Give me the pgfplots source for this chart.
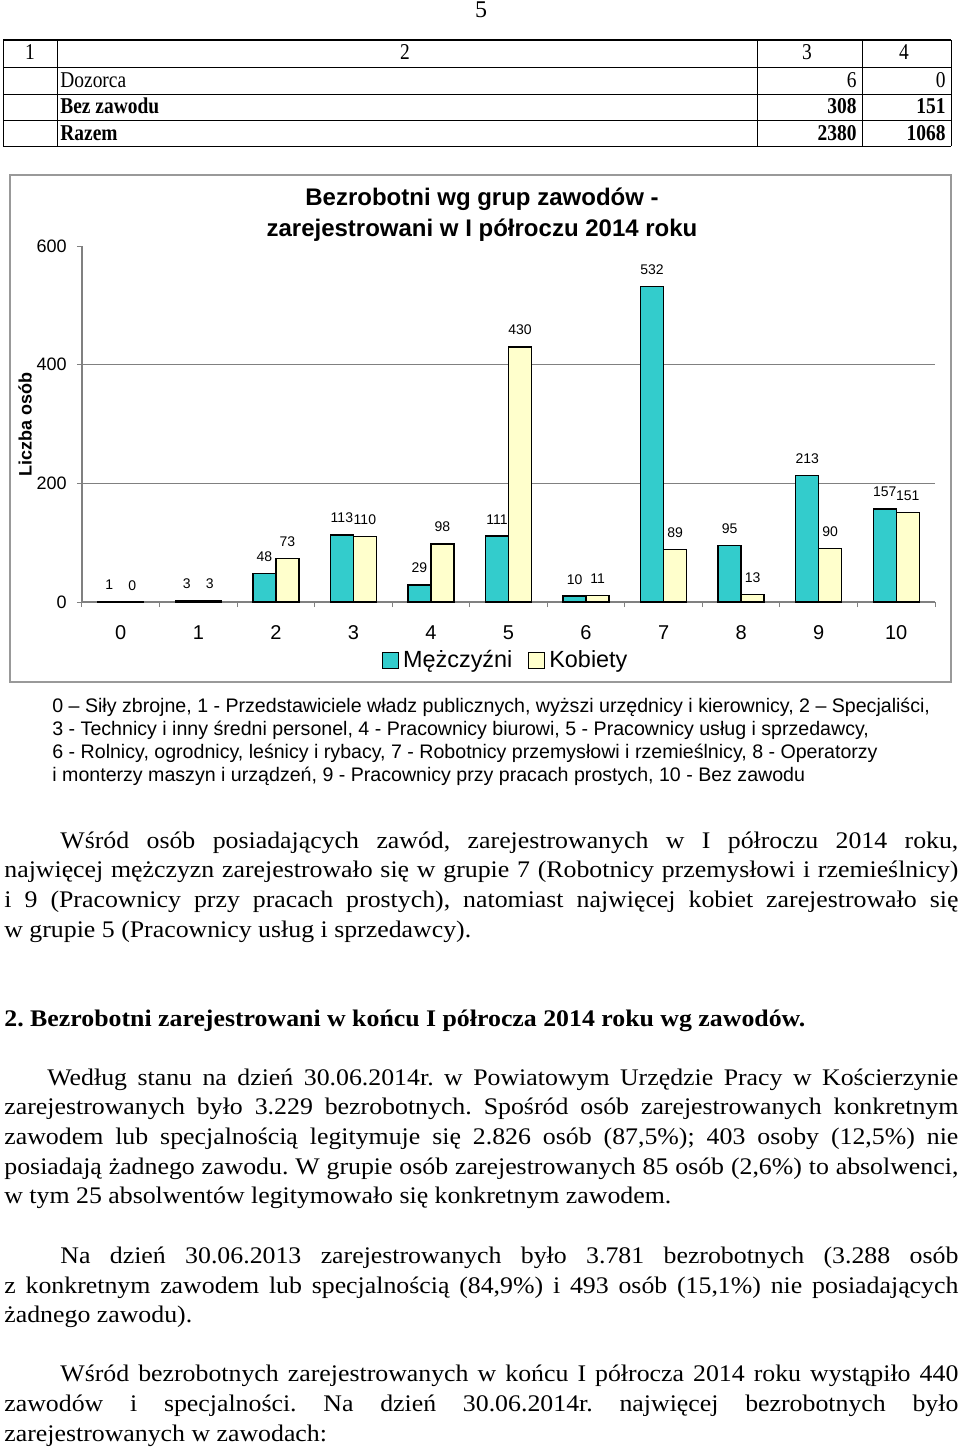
\documentclass[border=0pt]{standalone}
\usepackage{fontspec}
\setmainfont{Liberation Serif}
\newfontfamily\arial{Liberation Sans}
\newfontfamily\timeswide[FakeStretch=1.085]{Liberation Serif}
\newfontfamily\timesnarrow[FakeStretch=0.86]{Liberation Serif}
\usepackage{pgfplots}
\pgfplotsset{compat=1.18}
\definecolor{men}{RGB}{51,204,204}
\definecolor{women}{RGB}{255,255,204}
\definecolor{axgray}{RGB}{128,128,128}
\newcommand{\jl}[4]{\node[anchor=base west,inner sep=0pt] at (#1,#2) {\makebox[#3pt][s]{#4}};}
\newcommand{\nl}[3]{\node[anchor=base west,inner sep=0pt] at (#1,#2) {#3};}
\frenchspacing
\begin{document}
\frenchspacing
\begin{tikzpicture}
\begin{scope}[x=0.5pt,y=-0.5pt]
\path[use as bounding box] (0,0) rectangle (960,1448);
% page number
\node[anchor=base,inner sep=0pt,font=\fontsize{12}{14}\selectfont] at (481,17) {5};
% table
\draw[line width=0.6pt] (3,40) -- (951,40);
\draw[line width=0.5pt] (3,67) -- (951,67) (3,94) -- (951,94) (3,120) -- (951,120) (3,146) -- (951,146);
\draw[line width=0.5pt] (3,40) -- (3,146) (57,40) -- (57,146) (757,40) -- (757,146) (862,40) -- (862,146) (951,40) -- (951,146);
\begin{scope}[every node/.style={inner sep=0pt,font=\timesnarrow\fontsize{11.3}{13}\selectfont}]
\node[anchor=base] at (30,59) {1};
\node[anchor=base] at (405,59) {2};
\node[anchor=base] at (807,59) {3};
\node[anchor=base] at (904,59) {4};
\node[anchor=base west] at (60,87) {Dozorca};
\node[anchor=base east] at (857,87) {6};
\node[anchor=base east] at (946,87) {0};
\node[anchor=base west] at (60,113) {\bfseries Bez zawodu};
\node[anchor=base east] at (857,113) {\bfseries 308};
\node[anchor=base east] at (946,113) {\bfseries 151};
\node[anchor=base west] at (60,140) {\bfseries Razem};
\node[anchor=base east] at (857,140) {\bfseries 2380};
\node[anchor=base east] at (946,140) {\bfseries 1068};
\end{scope}
% chart frame
\draw[color=axgray!80,line width=0.6pt] (10,175) rectangle (951,682);
\node[anchor=base,inner sep=0pt,font=\arial\bfseries\fontsize{12}{14}\selectfont] at (482,205) {Bezrobotni wg grup zawodów -};
\node[anchor=base,inner sep=0pt,font=\arial\bfseries\fontsize{12}{14}\selectfont] at (482,236) {zarejestrowani w I półroczu 2014 roku};
\node[rotate=90,inner sep=0pt,font=\arial\bfseries\fontsize{9}{11}\selectfont] at (25,424) {Liczba osób};
% caption
\begin{scope}[every node/.style={font=\arial\fontsize{9.8}{12}\selectfont}]
\nl{52}{712}{0 – Siły zbrojne, 1 - Przedstawiciele władz publicznych, wyższi urzędnicy i kierownicy, 2 – Specjaliści,}
\nl{52}{735}{3 - Technicy i inny średni personel, 4 - Pracownicy biurowi, 5 - Pracownicy usług i sprzedawcy,}
\nl{52}{758}{6 - Rolnicy, ogrodnicy, leśnicy i rybacy, 7 - Robotnicy przemysłowi i rzemieślnicy, 8 - Operatorzy}
\nl{52}{781}{i monterzy maszyn i urządzeń, 9 - Pracownicy przy pracach prostych, 10 - Bez zawodu}
\end{scope}
% body text
\begin{scope}[every node/.style={font=\timeswide\fontsize{11.9}{14}\selectfont}]
\jl{60}{848}{449}{Wśród osób posiadających zawód, zarejestrowanych w I półroczu 2014 roku,}
\jl{4}{877}{477}{najwięcej mężczyzn zarejestrowało się w grupie 7 (Robotnicy przemysłowi i rzemieślnicy)}
\jl{4}{907}{477}{i 9 (Pracownicy przy pracach prostych), natomiast najwięcej kobiet zarejestrowało się}
\nl{4}{937}{w grupie 5 (Pracownicy usług i sprzedawcy).}
\nl{4}{1026}{\bfseries 2. Bezrobotni zarejestrowani w końcu I półrocza 2014 roku wg zawodów.}
\jl{47}{1085}{455.5}{Według stanu na dzień 30.06.2014r. w Powiatowym Urzędzie Pracy w Kościerzynie}
\jl{4}{1114}{477}{zarejestrowanych było 3.229 bezrobotnych. Spośród osób zarejestrowanych konkretnym}
\jl{4}{1144}{477}{zawodem lub specjalnością legitymuje się 2.826 osób (87,5\%); 403 osoby (12,5\%) nie}
\jl{4}{1174}{477}{posiadają żadnego zawodu. W grupie osób zarejestrowanych 85 osób (2,6\%) to absolwenci,}
\nl{4}{1203}{w tym 25 absolwentów legitymowało się konkretnym zawodem.}
\jl{60}{1263}{449}{Na dzień 30.06.2013 zarejestrowanych było 3.781 bezrobotnych (3.288 osób}
\jl{4}{1293}{477}{z konkretnym zawodem lub specjalnością (84,9\%) i 493 osób (15,1\%) nie posiadających}
\nl{4}{1322}{żadnego zawodu).}
\jl{60}{1381}{449}{Wśród bezrobotnych zarejestrowanych w końcu I półrocza 2014 roku wystąpiło 440}
\jl{4}{1411}{477}{zawodów i specjalności. Na dzień 30.06.2014r. najwięcej bezrobotnych było}
\nl{4}{1441}{zarejestrowanych w zawodach:}
\end{scope}
\end{scope}
\begin{axis}[
  at={(41pt,-301pt)}, anchor=south west,
  scale only axis, width=426.5pt, height=178pt,
  xmin=-0.5, xmax=10.5, ymin=0, ymax=600,
  axis lines*=left,
  axis line style={color=axgray, line width=0.6pt},
  xtick={0,...,10},
  minor xtick={-0.5,0.5,...,10.5},
  major x tick style={draw=none},
  minor x tick style={color=axgray, line width=0.5pt},
  ytick={0,600},
  extra y ticks={200,400},
  extra y tick style={ymajorgrids=true},
  major grid style={color=axgray, line width=0.5pt},
  y tick style={color=axgray, line width=0.5pt},
  tick align=outside,
  minor tick length=2.5pt, major tick length=2.5pt,
  /pgf/number format/assume math mode=true,
  x tick label style={font=\arial\fontsize{10}{12}\selectfont, inner sep=0pt, yshift=-9pt},
  y tick label style={font=\arial\fontsize{9}{11}\selectfont, inner sep=0pt, xshift=-5pt},
  ybar, bar width=11.5pt,
  nodes near coords,
  every node near coord/.append style={font=\arial\fontsize{7}{8}\selectfont, inner sep=0pt, anchor=base, yshift=6pt},
  legend style={at={(0.498,-0.163)}, anchor=center, draw=none, fill=none,
    font=\arial\fontsize{11.7}{14}\selectfont, legend columns=2,
    /tikz/every even column/.append style={column sep=6pt}},
  clip=false,
]
\addplot[fill=men, draw=black, line width=0.7pt, bar shift=-5.75pt,
  legend image code/.code={\draw[fill=men,draw=black,line width=0.5pt] (0pt,-4pt) rectangle (8pt,4pt);}]
  coordinates {(0,1) (1,3) (2,48) (3,113) (4,29) (5,111) (6,10) (7,532) (8,95) (9,213) (10,157)};
\addplot[fill=women, draw=black, line width=0.7pt, bar shift=5.75pt,
  legend image code/.code={\draw[fill=women,draw=black,line width=0.5pt] (0pt,-4pt) rectangle (8pt,4pt);}]
  coordinates {(0,0) (1,3) (2,73) (3,110) (4,98) (5,430) (6,11) (7,89) (8,13) (9,90) (10,151)};
\legend{Mężczyźni, Kobiety}
\end{axis}
\end{tikzpicture}
\end{document}
